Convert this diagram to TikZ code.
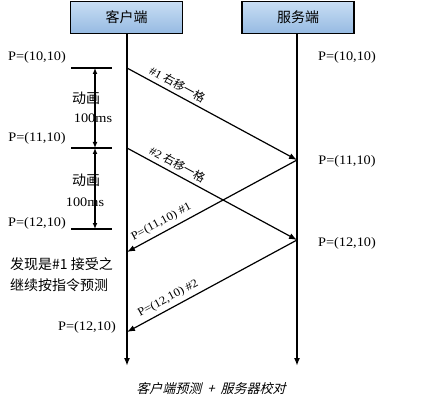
\documentclass[tikz,border=0pt]{standalone}
\usepackage{fontspec}
\setmainfont{Liberation Serif}[FakeStretch=1.1]
\newfontfamily\cjk{Noto Sans CJK SC}
\newfontfamily\cjkit{Noto Sans CJK SC}[FakeSlant=0.25]
\usetikzlibrary{arrows.meta}
\definecolor{boxtop}{RGB}{200,222,244}
\definecolor{boxbot}{RGB}{150,186,226}
\begin{document}
\begin{tikzpicture}[x=1pt,y=-1pt,
  lifebox/.style={draw=black,line width=1.6pt,top color=boxtop,bottom color=boxbot,minimum width=112pt,minimum height=32pt,inner sep=0pt,font=\cjk\fontsize{14}{16}\selectfont},
  life/.style={line width=2pt,-{Latex[length=8pt,width=6pt]}},
  msg/.style={line width=1.2pt,-{Latex[length=8pt,width=6pt]}},
  ptxt/.style={font=\fontsize{13}{15}\selectfont,inner sep=0pt},
  cjktxt/.style={font=\cjk\fontsize{14}{16}\selectfont,inner sep=0pt},
  lbl/.style={font=\fontsize{11.5}{13}\selectfont,sloped,above=4pt,inner sep=0pt},
  tickline/.style={line width=1.5pt},
  dimline/.style={line width=1.5pt,{Latex[length=6pt,width=5pt]}-{Latex[length=6pt,width=5pt]}}
]
\useasboundingbox (0,0) rectangle (423,409);
\fill[white] (0,0) rectangle (423,409);
% boxes
\node[lifebox] (cbox) at (126.5,17.5) {客户端};
\node[lifebox] (sbox) at (298,17.5) {服务端};
% lifelines
\coordinate (cend) at (127,366);
\coordinate (send) at (297,366);
\draw[life] (cbox.south -| cend) -- (cend);
\draw[life] (sbox.south -| send) -- (send);
% message points
\coordinate (c1) at (127,68);
\coordinate (s1) at (297,160);
\coordinate (c2) at (127,148);
\coordinate (s2) at (297,240);
\coordinate (c3) at (127,252);
\coordinate (c4) at (127,332);
\draw[msg] (c1) -- node[lbl,pos=0.27] {\#1 {\cjk 右移一格}} (s1);
\draw[msg] (c2) -- node[lbl,pos=0.27] {\#2 {\cjk 右移一格}} (s2);
\draw[msg] (s1) -- node[lbl,pos=0.77] {P=(11,10) \#1} (c3);
\draw[msg] (s2) -- node[lbl,pos=0.73] {P=(12,10) \#2} (c4);
% ticks on the left
\coordinate (t1a) at (71,68);  \coordinate (t1b) at (112,68);
\coordinate (t2a) at (71,148); \coordinate (t2b) at (112,148);
\coordinate (t3a) at (71,229); \coordinate (t3b) at (112,229);
\draw[tickline] (t1a) -- (t1b);
\draw[tickline] (t2a) -- (t2b);
\draw[tickline] (t3a) -- (t3b);
\coordinate (d1) at (95,68);
\coordinate (d2) at (95,148);
\coordinate (d3) at (95,229);
\draw[dimline] (d1) -- (d2);
\draw[dimline] (d2) -- (d3);
% left texts
\node[ptxt] (pl1) at (37,57) {P=(10,10)};
\node[ptxt] (pl2) at (37,138) {P=(11,10)};
\node[ptxt] (pl3) at (37,223) {P=(12,10)};
\node[cjktxt] (an1) at (86,98) {动画};
\node[ptxt] (ms1) at (93,118) {100ms};
\node[cjktxt] (an2) at (86,180) {动画};
\node[ptxt] (ms2) at (85,202) {100ms};
\node[cjktxt,anchor=west] (fx1) at (10,264) {发现是\#1 接受之};
\node[cjktxt,anchor=west] (fx2) at (10,285) {继续按指令预测};
\node[ptxt] (pl4) at (87,327) {P=(12,10)};
% right texts
\node[ptxt] (pr1) at (347,57) {P=(10,10)};
\node[ptxt] (pr2) at (347,161) {P=(11,10)};
\node[ptxt] (pr3) at (347,243) {P=(12,10)};
% caption
\node[inner sep=0pt,font=\cjkit\fontsize{13}{15}\selectfont] (cap) at (211,389) {客户端预测\hspace{6pt}+\hspace{6pt}服务器校对};
\end{tikzpicture}
\end{document}
